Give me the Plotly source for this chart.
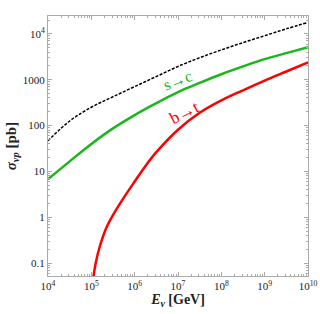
import plotly.graph_objects as go

# Values: log10(E / GeV) and log10(sigma / pb)
logE_total = [4.0, 4.5, 5.0, 5.5, 6.0, 6.5, 7.0, 7.5, 8.0, 8.5, 9.0, 9.5, 10.0]
logsig_total = [1.67, 2.10, 2.40, 2.63, 2.85, 3.07, 3.29, 3.48, 3.65, 3.81, 3.96, 4.11, 4.25]

logE_sc = [4.0, 4.5, 5.0, 5.5, 6.0, 6.5, 7.0, 7.5, 8.0, 8.5, 9.0, 9.5, 10.0]
logsig_sc = [0.83, 1.22, 1.60, 1.94, 2.23, 2.49, 2.73, 2.93, 3.12, 3.29, 3.45, 3.58, 3.71]

logE_bt = [5.0, 5.05, 5.1, 5.2, 5.35, 5.5, 5.75, 6.0, 6.25, 6.5, 7.0, 7.5, 8.0, 8.5, 9.0, 9.5, 10.0]
logsig_bt = [-1.75, -1.29, -1.0, -0.62, -0.22, 0.05, 0.43, 0.78, 1.12, 1.42, 1.91, 2.28, 2.55, 2.77, 2.98, 3.18, 3.38]

x_major = [1e4, 1e5, 1e6, 1e7, 1e8, 1e9, 1e10]
x_labels = ["10<sup>4</sup>", "10<sup>5</sup>", "10<sup>6</sup>", "10<sup>7</sup>",
            "10<sup>8</sup>", "10<sup>9</sup>", "10<sup>10</sup>"]
y_major = [0.1, 1, 10, 100, 1000, 1e4]
y_labels = ["0.1", "1", "10", "100", "1000", "10<sup>4</sup>"]

x_minor = [m * 10**d for d in range(4, 10) for m in range(2, 10)]
y_minor = [m * 10**d for d in range(-2, 5) for m in range(2, 10)]

E_total = [10**v for v in logE_total]
sig_total = [10**v for v in logsig_total]
E_sc = [10**v for v in logE_sc]
sig_sc = [10**v for v in logsig_sc]
E_bt = [10**v for v in logE_bt]
sig_bt = [10**v for v in logsig_bt]

GREEN = "#1db41d"
RED = "#ff0000"

fig = go.Figure()
fig.add_trace(go.Scatter(x=E_total, y=sig_total, mode="lines", line_shape="spline",
                         line=dict(color="black", width=1.5, dash="3px,1.5px")))
fig.add_trace(go.Scatter(x=E_sc, y=sig_sc, mode="lines", line_shape="spline",
                         line=dict(color=GREEN, width=2.5)))
fig.add_trace(go.Scatter(x=E_bt, y=sig_bt, mode="lines", line_shape="spline",
                         line=dict(color=RED, width=2.5)))

font_serif = "Liberation Serif, Times New Roman, serif"

fig.add_annotation(x=6.98, y=2.99, xref="x", yref="y", text="s→c", showarrow=False,
                   textangle=-21, font=dict(family=font_serif, size=16, color=GREEN))
fig.add_annotation(x=7.16, y=2.29, xref="x", yref="y", text="b→t", showarrow=False,
                   textangle=-27, font=dict(family=font_serif, size=17, color=RED))

axis_common = dict(showgrid=False, zeroline=False, showline=True, linecolor="#aaaaaa",
                   linewidth=1, mirror="allticks", ticks="inside", ticklen=4, automargin=False,
                   tickcolor="#aaaaaa", tickfont=dict(family=font_serif, size=11, color="#222222"))

fig.update_xaxes(type="log", range=[4, 10], tickmode="array", tickvals=x_major, ticktext=x_labels,
                 minor=dict(tickmode="array", tickvals=x_minor, ticks="inside", ticklen=2,
                            tickcolor="#aaaaaa"),
                 title=dict(text="<b><i>E</i><sub><i>ν</i></sub> [GeV]</b>", standoff=2,
                            font=dict(family=font_serif, size=14, color="#222222")),
                 **axis_common)
fig.update_yaxes(type="log", range=[-1.28, 4.39], tickmode="array", tickvals=y_major, ticktext=y_labels,
                 minor=dict(tickmode="array", tickvals=y_minor, ticks="inside", ticklen=2,
                            tickcolor="#aaaaaa"),
                 title=dict(text="<b><i>σ</i><sub><i>νp</i></sub> [pb]</b>", standoff=2,
                            font=dict(family=font_serif, size=15, color="#222222")),
                 **axis_common)

fig.update_layout(width=320, height=314, margin=dict(l=48, r=12, t=16, b=38),
                  plot_bgcolor="white", paper_bgcolor="white", showlegend=False)

fig.write_html("out.html", config={"displayModeBar": False},
               post_script="document.body.style.margin='0';document.body.style.overflow='hidden';")
